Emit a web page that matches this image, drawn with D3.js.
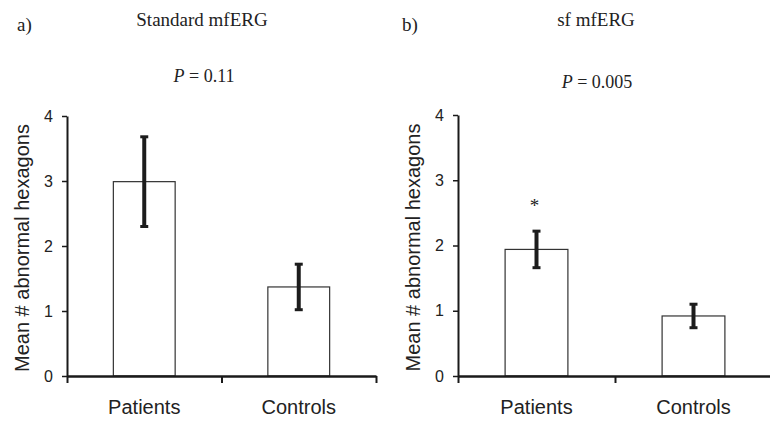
<!DOCTYPE html>
<html>
<head>
<meta charset="utf-8">
<script src="https://cdn.jsdelivr.net/npm/d3@7"></script>
<style>
  body { margin: 0; background: #fff; }
  svg { display: block; }
  .tick text { font-family: "Liberation Sans", Arial, sans-serif; font-size: 16px; fill: #222; }
  .serif { font-family: "Liberation Serif", "Times New Roman", serif; fill: #222; }
  .sans { font-family: "Liberation Sans", Arial, sans-serif; fill: #222; }
</style>
</head>
<body>
<svg id="chart" width="770" height="424"></svg>
<script>
// data
const categories = ["Patients", "Controls"];
const yTicks = [0, 1, 2, 3, 4];

const standardMeans = [2.99, 1.37];
const standardErrs = [0.69, 0.35];

const sfMeans = [1.94, 0.92];
const sfErrs = [0.28, 0.18];

const panelLetters = ["a)", "b)"];
const panelTitles = ["Standard mfERG", "sf mfERG"];
const pValues = ["0.11", "0.005"];
const significant = [[false, false], [true, false]];

const yLabel = "Mean # abnormal hexagons";

// layout of the two panels
const panels = [
  { x0: 67, x1: 376, yTop: 116, yBot: 376, letterX: 17, titleX: 202, pX: 204, pY: 82,
    means: standardMeans, errs: standardErrs },
  { x0: 458, x1: 772, yTop: 115, yBot: 376, letterX: 402, titleX: 596, pX: 597, pY: 88,
    means: sfMeans, errs: sfErrs }
];

const svg = d3.select("#chart");

panels.forEach(function(p, i) {
  const g = svg.append("g");

  const x = d3.scaleBand().domain(categories).range([p.x0, p.x1]);
  const y = d3.scaleLinear().domain([0, 4]).range([p.yBot, p.yTop]);
  const barW = x.bandwidth() * 0.4;

  // bars
  g.selectAll("rect.bar")
    .data(categories)
    .enter().append("rect")
      .attr("class", "bar")
      .attr("x", function(d) { return x(d) + x.bandwidth() / 2 - barW / 2; })
      .attr("y", function(d, j) { return y(p.means[j]); })
      .attr("width", barW)
      .attr("height", function(d, j) { return y(0) - y(p.means[j]); })
      .style("fill", "#fff")
      .style("stroke", "#333")
      .style("stroke-width", 1.2);

  // error bars
  const eb = g.selectAll("g.err")
    .data(categories)
    .enter().append("g")
      .attr("class", "err")
      .style("stroke", "#1c1c1c");

  eb.append("line")
    .attr("x1", function(d) { return x(d) + x.bandwidth() / 2; })
    .attr("x2", function(d) { return x(d) + x.bandwidth() / 2; })
    .attr("y1", function(d, j) { return y(p.means[j] + p.errs[j]); })
    .attr("y2", function(d, j) { return y(p.means[j] - p.errs[j]); })
    .style("stroke-width", 4);

  [1, -1].forEach(function(s) {
    eb.append("line")
      .attr("x1", function(d) { return x(d) + x.bandwidth() / 2 - 4; })
      .attr("x2", function(d) { return x(d) + x.bandwidth() / 2 + 4; })
      .attr("y1", function(d, j) { return y(p.means[j] + s * p.errs[j]); })
      .attr("y2", function(d, j) { return y(p.means[j] + s * p.errs[j]); })
      .style("stroke-width", 3);
  });

  // asterisk over significant bars
  g.selectAll("text.star")
    .data(categories.filter(function(d, j) { return significant[i][j]; }))
    .enter().append("text")
      .attr("class", "star serif")
      .attr("x", function(d) { return x(d) + x.bandwidth() / 2 - 2; })
      .attr("y", function(d) { const j = categories.indexOf(d); return y(p.means[j] + p.errs[j]) - 19; })
      .attr("text-anchor", "middle")
      .style("font-size", "19px")
      .text("*");

  // y axis
  const yAxis = g.append("g")
    .attr("transform", "translate(" + p.x0 + ",0)")
    .call(d3.axisLeft(y).tickValues(yTicks).tickFormat(d3.format("d")).tickSize(5).tickSizeOuter(0).tickPadding(9));
  yAxis.select(".domain").style("stroke", "#1a1a1a").style("stroke-width", 2);
  yAxis.selectAll(".tick line").style("stroke", "#1a1a1a").style("stroke-width", 1.5);

  // x axis, ticks at band edges
  const xEdge = d3.scaleLinear().domain([0, categories.length]).range([p.x0, p.x1]);
  const xAxis = g.append("g")
    .attr("transform", "translate(0," + p.yBot + ")")
    .call(d3.axisBottom(xEdge).tickValues(d3.range(categories.length + 1)).tickFormat("").tickSize(7).tickSizeOuter(0));
  xAxis.select(".domain").style("stroke", "#1a1a1a").style("stroke-width", 2.5);
  xAxis.selectAll(".tick line").style("stroke", "#1a1a1a").style("stroke-width", 2);

  // category labels
  g.selectAll("text.cat")
    .data(categories)
    .enter().append("text")
      .attr("class", "cat sans")
      .attr("x", function(d) { return x(d) + x.bandwidth() / 2; })
      .attr("y", 414)
      .attr("text-anchor", "middle")
      .style("font-size", "20px")
      .text(function(d) { return d; });

  // y axis title
  g.append("text")
    .attr("class", "sans")
    .attr("transform", "translate(" + (p.x0 - 38.5) + "," + ((p.yTop + p.yBot) / 2 + 2) + ")rotate(-90)")
    .attr("text-anchor", "middle")
    .style("font-size", "20px")
    .text(yLabel);

  // panel letter, title and p value
  g.append("text")
    .attr("class", "serif")
    .attr("x", p.letterX)
    .attr("y", 31)
    .style("font-size", "19px")
    .text(panelLetters[i]);

  g.append("text")
    .attr("class", "serif")
    .attr("x", p.titleX)
    .attr("y", 26)
    .attr("text-anchor", "middle")
    .style("font-size", "19px")
    .text(panelTitles[i]);

  const pt = g.append("text")
    .attr("class", "serif")
    .attr("x", p.pX)
    .attr("y", p.pY)
    .attr("text-anchor", "middle")
    .style("font-size", "18px");
  pt.append("tspan").style("font-style", "italic").text("P");
  pt.append("tspan").text(" = " + pValues[i]);
});
</script>
</body>
</html>
